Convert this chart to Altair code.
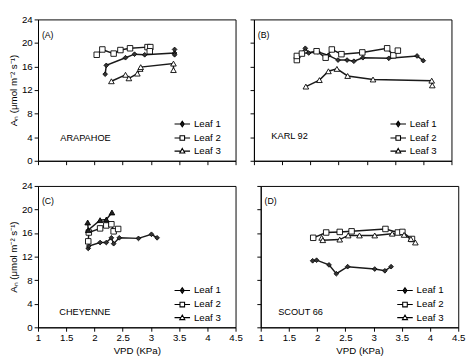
import altair as alt
import pandas as pd

panels = ["(A)", "(B)", "(C)", "(D)"]
cultivars = ["ARAPAHOE", "KARL 92", "CHEYENNE", "SCOUT 66"]
leaves = ["Leaf 1", "Leaf 2", "Leaf 3"]
x_ticks = [1, 1.5, 2, 2.5, 3, 3.5, 4, 4.5]
y_ticks = [0, 4, 8, 12, 16, 20, 24]

# Panel A - ARAPAHOE
a_l1_vpd = [2.19, 2.21, 2.55, 2.71, 2.89, 3.42, 3.42, 3.42]
a_l1_an = [14.7, 16.2, 17.5, 18.1, 18.0, 18.3, 18.9, 18.0]
a_l2_vpd = [2.04, 2.14, 2.34, 2.46, 2.63, 2.94, 2.99, 2.98]
a_l2_an = [18.0, 18.9, 18.2, 18.8, 19.1, 19.3, 19.3, 18.6]
a_l3_vpd = [2.30, 2.55, 2.61, 2.76, 2.81, 2.82, 3.40, 3.40]
a_l3_an = [13.5, 14.6, 14.0, 14.8, 15.6, 15.9, 16.5, 15.4]

# Panel B - KARL 92
b_l1_vpd = [1.78, 1.91, 1.97, 2.13, 2.32, 2.49, 2.65, 2.77, 2.93, 3.39, 3.89, 4.00]
b_l1_an = [17.5, 19.1, 18.3, 18.5, 17.9, 17.1, 17.1, 16.9, 17.5, 17.4, 17.8, 17.0]
b_l2_vpd = [1.76, 1.76, 1.85, 2.11, 2.27, 2.38, 2.55, 2.92, 3.36, 3.47, 3.55]
b_l2_an = [17.1, 17.8, 18.2, 18.6, 17.5, 18.9, 18.1, 18.4, 19.1, 17.9, 18.7]
b_l3_vpd = [1.92, 2.16, 2.32, 2.47, 2.66, 3.11, 4.15, 4.16]
b_l3_an = [12.6, 13.7, 15.2, 15.6, 14.4, 13.8, 13.6, 12.8]

# Panel C - CHEYENNE
c_l1_vpd = [1.89, 1.90, 2.10, 2.21, 2.30, 2.34, 2.44, 2.78, 3.01, 3.11]
c_l1_an = [13.4, 13.8, 14.4, 14.4, 15.2, 14.2, 15.2, 15.1, 15.8, 15.2]
c_l2_vpd = [1.89, 1.90, 2.10, 2.21, 2.30, 2.34, 2.42]
c_l2_an = [14.6, 16.1, 16.8, 17.3, 17.5, 16.3, 16.7]
c_l3_vpd = [1.88, 1.89, 2.10, 2.21, 2.31]
c_l3_an = [17.8, 16.5, 18.2, 18.3, 19.5]

# Panel D - SCOUT 66
d_l1_vpd = [1.92, 1.99, 2.21, 2.34, 2.54, 3.02, 3.20, 3.31]
d_l1_an = [11.3, 11.4, 10.6, 9.1, 10.3, 9.9, 9.6, 10.3]
d_l2_vpd = [1.93, 2.16, 2.40, 2.61, 3.21, 3.43, 3.51, 3.68]
d_l2_an = [15.2, 16.1, 16.2, 16.3, 16.7, 16.1, 16.2, 15.0]
d_l3_vpd = [2.08, 2.10, 2.40, 2.55, 2.75, 3.02, 3.33, 3.54, 3.66, 3.74]
d_l3_an = [15.2, 14.8, 14.9, 15.6, 15.6, 15.6, 15.9, 15.7, 15.0, 14.4]

series_all = [
    [(a_l1_vpd, a_l1_an), (a_l2_vpd, a_l2_an), (a_l3_vpd, a_l3_an)],
    [(b_l1_vpd, b_l1_an), (b_l2_vpd, b_l2_an), (b_l3_vpd, b_l3_an)],
    [(c_l1_vpd, c_l1_an), (c_l2_vpd, c_l2_an), (c_l3_vpd, c_l3_an)],
    [(d_l1_vpd, d_l1_an), (d_l2_vpd, d_l2_an), (d_l3_vpd, d_l3_an)],
]

W, H = 204, 146
FONT = "Liberation Sans"
legend_paths = [
    "M-2.2,0H2.2M0,-0.8L0.55,0L0,0.8L-0.55,0Z",
    "M-2.2,0H-0.65M0.65,0H2.2M-0.65,-0.65H0.65V0.65H-0.65Z",
    "M-2.2,0H-0.42M0.42,0H2.2M0,-0.75L0.72,0.55H-0.72Z",
]
legend_fills = ["#333333", "white", "white"]
legend_strokes = ["black", "black", "black"]


def panel(idx, top, left, name_x, name_y, tri_fill):
    rows = []
    for leaf, (vx, vy) in zip(leaves, series_all[idx]):
        for i, (xv, yv) in enumerate(zip(vx, vy)):
            rows.append({"leaf": leaf, "vpd": xv, "an": yv, "i": i})
    df = pd.DataFrame(rows)

    if top:
        xenc = alt.X("vpd:Q", scale=alt.Scale(domain=[1, 4.5], nice=False, zero=False),
                     axis=alt.Axis(values=x_ticks, labels=False), title=None)
    else:
        xenc = alt.X("vpd:Q", scale=alt.Scale(domain=[1, 4.5], nice=False, zero=False),
                     axis=alt.Axis(values=x_ticks, format="~g"), title="VPD (KPa)")
    if left:
        yenc = alt.Y("an:Q", scale=alt.Scale(domain=[0, 24], nice=False),
                     axis=alt.Axis(values=y_ticks, titlePadding=3),
                     title="Aₙ (μmol m⁻² s⁻¹)")
    else:
        yenc = alt.Y("an:Q", scale=alt.Scale(domain=[0, 24], nice=False),
                     axis=alt.Axis(values=y_ticks, labels=False), title=None)

    base = alt.Chart(df).encode(x=xenc, y=yenc)
    lines = base.mark_line(color="#1a1a1a", strokeWidth=1.5).encode(
        detail="leaf:N", order="i:Q")
    p1 = base.transform_filter(alt.datum.leaf == leaves[0]).mark_point(
        shape="diamond", size=24, filled=True, fill="#333333", stroke="black",
        strokeWidth=0.8, opacity=1)
    p2 = base.transform_filter(alt.datum.leaf == leaves[1]).mark_point(
        shape="square", size=32, filled=True, fill="white", stroke="black",
        strokeWidth=0.9, opacity=1)
    p3 = base.transform_filter(alt.datum.leaf == leaves[2]).mark_point(
        shape="triangle-up", size=34, filled=True, fill=tri_fill, stroke="black",
        strokeWidth=0.9, opacity=1)

    lab = alt.Chart(pd.DataFrame({"t": [panels[idx]]})).mark_text(
        align="left", baseline="middle", font=FONT, fontSize=9, color="black"
    ).encode(text="t:N", x=alt.value(4), y=alt.value(16))
    nm = alt.Chart(pd.DataFrame({"t": [cultivars[idx]]})).mark_text(
        align="left", baseline="middle", font=FONT, fontSize=9.5, color="black"
    ).encode(text="t:N", x=alt.value(name_x), y=alt.value(name_y))

    leg = alt.Legend(title=None, orient="none", legendX=144, legendY=103,
                     symbolSize=53, symbolOpacity=1, symbolStrokeColor="black",
                     symbolStrokeWidth=1.1, labelOffset=7, labelFont=FONT,
                     labelFontSize=10, labelColor="black", rowPadding=3.5,
                     padding=0)
    legend_layer = alt.Chart(pd.DataFrame({"leaf": leaves})).mark_point(
        filled=True, opacity=0, strokeWidth=1.1
    ).encode(
        shape=alt.Shape("leaf:N", scale=alt.Scale(domain=leaves, range=legend_paths), legend=leg),
        fill=alt.Fill("leaf:N", scale=alt.Scale(domain=leaves, range=legend_fills), legend=leg),
        stroke=alt.Stroke("leaf:N", scale=alt.Scale(domain=leaves, range=legend_strokes), legend=leg),
    )

    return alt.layer(lines, p1, p2, p3, lab, nm, legend_layer).properties(width=W, height=H)


pA = panel(0, True, True, 23, 123, "white")
pB = panel(1, True, False, 18, 121, "white")
pC = panel(2, False, True, 22, 130, "#222222")
pD = panel(3, False, False, 18, 130, "white")

row1 = alt.hconcat(pA, pB, spacing=13).resolve_scale(
    shape="independent", fill="independent", stroke="independent")
row2 = alt.hconcat(pC, pD, spacing=13).resolve_scale(
    shape="independent", fill="independent", stroke="independent")

chart = alt.vconcat(row1, row2, spacing=14).resolve_scale(
    shape="independent", fill="independent", stroke="independent"
).properties(
    padding={"left": 0, "right": 0, "top": 0, "bottom": 0}
).configure_view(
    stroke="black", strokeWidth=1
).configure_axis(
    domainColor="black", tickColor="black", labelColor="black", titleColor="black",
    labelFont=FONT, titleFont=FONT, labelFontSize=10, titleFontSize=10,
    titleFontWeight="normal", tickSize=4, labelPadding=2, titlePadding=3,
    grid=False, labelFlush=False, labelOverlap=False
)

chart.save("out.html", embed_options={"renderer": "svg", "actions": False})
